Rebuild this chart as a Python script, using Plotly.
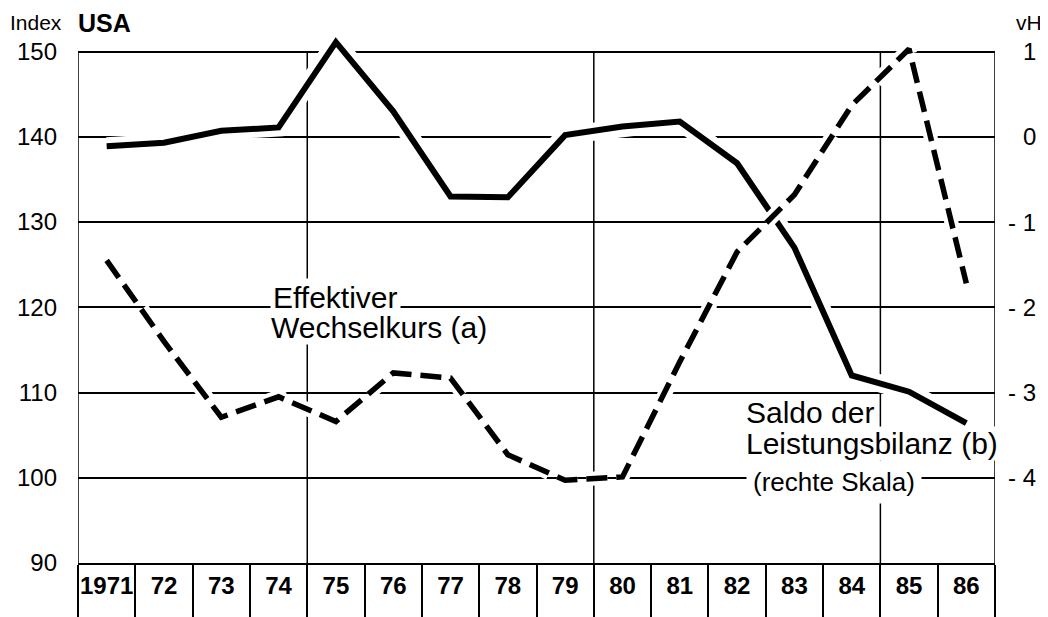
import plotly.graph_objects as go

# ---------------- data ----------------
years = list(range(1971, 1987))
year_labels = ["1971", "72", "73", "74", "75", "76", "77", "78",
               "79", "80", "81", "82", "83", "84", "85", "86"]
# Effektiver Wechselkurs (Index, left scale)
wechselkurs = [138.9, 139.3, 140.7, 141.1, 151.1, 143.0, 133.0, 132.9,
               140.2, 141.2, 141.8, 136.9, 127.0, 112.0, 110.1, 106.4]
# Saldo der Leistungsbilanz (vH, right scale)
leistungsbilanz = [-1.45, -2.40, -3.29, -3.05, -3.34, -2.77, -2.83, -3.73,
                   -4.03, -3.99, -2.64, -1.35, -0.68, 0.37, 1.03, -1.72]
left_ticks = [90, 100, 110, 120, 130, 140, 150]
right_ticks = [1, 0, -1, -2, -3, -4]
right_tick_text = ["1", "0", "- 1", "- 2", "- 3", "- 4"]
grid_years = [1974.5, 1979.5, 1984.5]

# ---------------- layout helpers (reference pixel coords) ----------------
OFF = 8                      # default page margin of the html body
W, H = 1048 - OFF, 617 - OFF
L, R, T, B = 78, 995, 26, 563   # plot area in reference pixels (top = 153)


def px(x):
    return (x - L) / (R - L)


def py(y):
    return (B - y) / (B - T)


FONT = "Liberation Sans, Arial, sans-serif"

fig = go.Figure()

# white halos (interrupt the grid like the original drawing)
fig.add_trace(go.Scatter(x=years, y=wechselkurs, mode="lines",
                         line=dict(color="white", width=18),
                         hoverinfo="skip", showlegend=False))
fig.add_trace(go.Scatter(x=years, y=wechselkurs, mode="lines",
                         line=dict(color="black", width=6),
                         showlegend=False, name="Effektiver Wechselkurs"))
fig.add_trace(go.Scatter(x=years, y=leistungsbilanz, mode="lines", yaxis="y2",
                         line=dict(color="white", width=14, dash="21px,9px"),
                         hoverinfo="skip", showlegend=False))
fig.add_trace(go.Scatter(x=years, y=leistungsbilanz, mode="lines", yaxis="y2",
                         line=dict(color="black", width=5.5, dash="21px,9px"),
                         showlegend=False, name="Saldo der Leistungsbilanz"))

shapes = []
# frame left/right and 5-year vertical grid lines
for gx in [1970.5, 1986.5] + grid_years:
    shapes.append(dict(type="line", xref="x", yref="y", x0=gx, x1=gx,
                       y0=90, y1=150, layer="below",
                       line=dict(color="black", width=1.5)))

annotations = []


def txt(text, x, y, size, xanchor="left", bold=False, bg=None, pad=1,
        yref="paper"):
    a = dict(text=("<b>%s</b>" % text) if bold else text, xref="paper",
             yref=yref, x=px(x), y=py(y) if yref == "paper" else y,
             xanchor=xanchor, yanchor="middle", showarrow=False,
             font=dict(family=FONT, size=size, color="black"), borderpad=pad)
    if bg:
        a["bgcolor"] = bg
    annotations.append(a)


txt("Index", 9, 23, 21, pad=0)
txt("USA", 77, 23, 25, bold=True, pad=0)
txt("vH", 1043, 23, 21, xanchor="right", pad=0)

for v, t in zip(right_ticks, right_tick_text):
    txt(t, 1038, v, 24, xanchor="right", yref="y2")

txt("Effektiver", 270, 297, 30, bg="white", pad=2)
txt("Wechselkurs (a)", 270, 327, 30, bg="white", pad=0)
txt("Saldo der", 745, 412, 30, bg="white", pad=0)
txt("Leistungsbilanz (b)", 745, 443, 30, bg="white", pad=0)
txt("(rechte Skala)", 746, 482, 26, bg="white", pad=6)

fig.update_layout(
    width=W, height=H,
    margin=dict(l=L - OFF, r=1048 - R, t=T - OFF, b=617 - B, autoexpand=False),
    paper_bgcolor="white", plot_bgcolor="white",
    showlegend=False,
    shapes=shapes, annotations=annotations,
    xaxis=dict(range=[1970.5, 1986.5], tickmode="array", tickvals=years,
               ticktext=year_labels, ticks="", tickangle=0, showgrid=False,
               zeroline=False, showline=True, mirror=False, linecolor="black",
               linewidth=1.5, layer="below traces", ticklabelstandoff=0,
               tickfont=dict(family=FONT, size=24, color="black", weight="bold"),
               minor=dict(tickmode="array", tickvals=[1970.5 + i for i in range(17)],
                          ticks="outside", ticklen=60, tickwidth=1.5,
                          tickcolor="black", showgrid=False)),
    yaxis=dict(range=[90, 153], tickmode="array", tickvals=left_ticks,
               ticks="", showgrid=True, gridcolor="black", gridwidth=1.5,
               zeroline=False, showline=False, layer="below traces",
               ticklabelstandoff=20,
               tickfont=dict(family=FONT, size=24, color="black")),
    yaxis2=dict(range=[-5, 1.3], overlaying="y", side="right", showgrid=False,
                showticklabels=False, zeroline=False, showline=False),
)

fig.write_html("out.html")
